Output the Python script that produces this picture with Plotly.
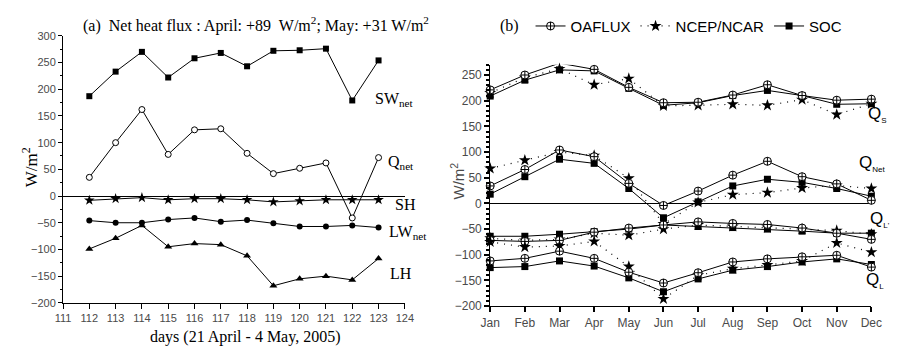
import plotly.graph_objects as go

W, H = 898, 350

# ---------------- Panel (a) data ----------------
days = [112, 113, 114, 115, 116, 117, 118, 119, 120, 121, 122, 123]
sw_net = [187, 233, 270, 222, 258, 268, 243, 272, 273, 276, 179, 254]
q_net = [35, 100, 162, 78, 124, 126, 80, 42, 52, 62, -41, 72]
sh = [-8, -5, -3, -7, -5, -5, -7, -11, -9, -7, -7, -7]
lw_net = [-46, -50, -50, -44, -41, -48, -45, -51, -57, -57, -55, -59]
lh = [-99, -79, -55, -95, -89, -91, -112, -168, -155, -150, -157, -117]

# ---------------- Panel (b) data ----------------
months = ["Jan", "Feb", "Mar", "Apr", "May", "Jun", "Jul", "Aug", "Sep", "Oct", "Nov", "Dec"]
qs_oa = [221, 250, 273, 261, 226, 196, 197, 211, 231, 210, 201, 203]
qs_ncep = [215, 245, 262, 231, 243, 190, 191, 193, 191, 202, 173, 194]
qs_soc = [209, 240, 260, 258, 224, 191, 196, 210, 220, 210, 193, 194]

qn_oa = [34, 66, 104, 91, 39, -4, 24, 55, 82, 52, 38, 6]
qn_ncep = [68, 84, 100, 93, 49, -40, 2, 17, 21, 30, 35, 29]
qn_soc = [18, 52, 86, 78, 29, -28, 3, 34, 47, 41, 29, 14]

qlp_oa = [-72, -74, -72, -56, -48, -42, -36, -39, -41, -48, -58, -70]
qlp_ncep = [-68, -72, -70, -58, -62, -50, -42, -45, -47, -50, -53, -60]
qlp_soc = [-64, -64, -60, -55, -50, -42, -45, -47, -50, -54, -58, -58]

ql_oa = [-112, -107, -93, -107, -134, -155, -135, -114, -108, -104, -101, -124]
ql_ncep = [-75, -85, -83, -74, -123, -186, -140, -127, -120, -112, -77, -95]
ql_soc = [-125, -123, -112, -122, -145, -172, -147, -130, -123, -114, -108, -119]

left_labels = ["SW<sub>net</sub>", "Q<sub>net</sub>", "SH", "LW<sub>net</sub>", "LH"]
sub = "<sub><span style='font-size:8px'>{}</span></sub>"
right_labels = ["Q" + sub.format("S"), "Q" + sub.format("Net"),
                "Q" + sub.format("L'"), "Q" + sub.format("L")]

SERIF = "Liberation Serif, Times New Roman, serif"
SANS = "Liberation Sans, Arial, sans-serif"
GRAY = "#4a4a4a"


def px_x(p):
    return p / W


def px_y(p):
    return 1 - p / H


fig = go.Figure()

# ---- Panel (a) traces ----
line_a = dict(color="black", width=1)
a_series = [
    (sw_net, dict(symbol="square", size=6, color="black")),
    (q_net, dict(symbol="circle", size=6, color="white", line=dict(color="black", width=1))),
    (sh, dict(symbol="star", size=8, color="black")),
    (lw_net, dict(symbol="circle", size=6, color="black")),
    (lh, dict(symbol="triangle-up", size=7, color="black")),
]
for vals, mk in a_series:
    fig.add_trace(go.Scatter(x=days, y=vals, mode="lines+markers", line=line_a,
                             marker=mk, showlegend=False, cliponaxis=False,
                             xaxis="x", yaxis="y"))

# ---- Panel (b) traces ----
oa_mk = dict(symbol="circle-cross", size=8, color="white", line=dict(color="black", width=1))
nc_mk = dict(symbol="star", size=9, color="black", line=dict(width=0))
soc_mk = dict(symbol="square", size=7, color="black", line=dict(width=0))

groups = [(qs_oa, qs_ncep, qs_soc), (qn_oa, qn_ncep, qn_soc),
          (qlp_oa, qlp_ncep, qlp_soc), (ql_oa, ql_ncep, ql_soc)]
for gi, (oa, nc, soc) in enumerate(groups):
    first = gi == 0
    fig.add_trace(go.Scatter(x=months, y=nc, mode="lines+markers", name="NCEP/NCAR",
                             line=dict(color="black", width=1.2, dash="1px,6px"), marker=nc_mk,
                             showlegend=first, legendrank=2, cliponaxis=False,
                             xaxis="x2", yaxis="y2"))
    fig.add_trace(go.Scatter(x=months, y=soc, mode="lines+markers", name="SOC",
                             line=dict(color="black", width=1), marker=soc_mk,
                             showlegend=first, legendrank=3, cliponaxis=False,
                             xaxis="x2", yaxis="y2"))
    fig.add_trace(go.Scatter(x=months, y=oa, mode="lines+markers", name="OAFLUX",
                             line=dict(color="black", width=1), marker=oa_mk,
                             showlegend=first, legendrank=1, cliponaxis=False,
                             xaxis="x2", yaxis="y2"))

annotations = []
# panel (a) title
annotations.append(dict(text="(a)  Net heat flux : April: +89  W/m<sup>2</sup>; May: +31 W/m<sup>2</sup>",
                        x=px_x(73), y=px_y(19), xref="paper", yref="paper",
                        xanchor="left", yanchor="middle", showarrow=False,
                        font=dict(family=SERIF, size=16, color="black")))
annotations.append(dict(text="W/m<sup>2</sup>", x=px_x(20), y=px_y(168), xref="paper", yref="paper",
                        textangle=-90, showarrow=False, xanchor="center", yanchor="middle",
                        font=dict(family=SERIF, size=17, color="black")))
annotations.append(dict(text="days (21 April - 4 May, 2005)", x=px_x(241), y=px_y(344),
                        xref="paper", yref="paper", showarrow=False,
                        xanchor="center", yanchor="middle",
                        font=dict(family=SERIF, size=16, color="black")))
# series labels panel (a)
left_pos = [(372, 97), (385, 163), (392, 206), (386, 235), (387, 278)]
for lab, (lx, ly) in zip(left_labels, left_pos):
    annotations.append(dict(text=lab, x=px_x(lx), y=px_y(ly), xref="paper", yref="paper",
                            xanchor="left", yanchor="middle", showarrow=False,
                            font=dict(family=SERIF, size=16, color="black")))
# panel (b)
annotations.append(dict(text="(b)", x=px_x(500), y=px_y(21), xref="paper", yref="paper",
                        xanchor="left", yanchor="middle", showarrow=False,
                        font=dict(family=SERIF, size=16, color="black")))
annotations.append(dict(text="W/m<sup>2</sup>", x=px_x(458), y=px_y(182), xref="paper", yref="paper",
                        textangle=-90, showarrow=False, xanchor="center", yanchor="middle",
                        font=dict(family=SANS, size=15, color=GRAY)))
right_pos = [(876, 113), (867, 164), (879, 222), (874, 285)]
for lab, (lx, ly) in zip(right_labels, right_pos):
    annotations.append(dict(text=lab, x=px_x(lx), y=px_y(ly), xref="paper", yref="paper",
                            xanchor="left", yanchor="middle", showarrow=False,
                            font=dict(family=SANS, size=17, color="black")))

axis_common = dict(showline=True, linecolor="black", linewidth=1, ticks="outside",
                   tickcolor="black", showgrid=False, mirror=False)

fig.update_layout(
    width=W, height=H, margin=dict(l=0, r=0, t=0, b=0),
    paper_bgcolor="white", plot_bgcolor="white",
    xaxis=dict(domain=[px_x(54.3), px_x(404.3)], range=[111, 124], dtick=1, tick0=111,
               ticklen=5, zeroline=False, anchor="y",
               tickfont=dict(family=SANS, size=11, color=GRAY), **axis_common),
    yaxis=dict(domain=[px_y(308.3), px_y(31)], range=[-200, 300], dtick=50, ticklen=4,
               zeroline=True, zerolinecolor="black", zerolinewidth=1, anchor="x",
               minor=dict(dtick=25, ticks="outside", ticklen=2, tickcolor="black"),
               tickfont=dict(family=SANS, size=11, color=GRAY), **axis_common),
    xaxis2=dict(domain=[px_x(491.7), px_x(882)], range=[0, 11], type="category",
                ticklen=5, tickwidth=1.5, anchor="y2", zeroline=False,
                tickfont=dict(family=SANS, size=12, color=GRAY), **axis_common),
    yaxis2=dict(domain=[px_y(311.7), px_y(61)], range=[-200, 270], tickvals=[-200, -150, -100, -50, 0, 50, 100, 150, 200, 250],
                ticklen=5, tickwidth=1.5, anchor="x2",
                zeroline=True, zerolinecolor="black", zerolinewidth=1,
                minor=dict(dtick=10, ticks="outside", ticklen=3, tickcolor="black"),
                tickfont=dict(family=SANS, size=12, color=GRAY), **axis_common),
    legend=dict(orientation="h", x=px_x(533), y=px_y(21), xanchor="left", yanchor="middle",
                font=dict(family=SANS, size=15, color="black"), bgcolor="rgba(0,0,0,0)",
                traceorder="normal", itemwidth=30, tracegroupgap=0),
    annotations=annotations,
    showlegend=True,
)

fig.write_html("out.html")
